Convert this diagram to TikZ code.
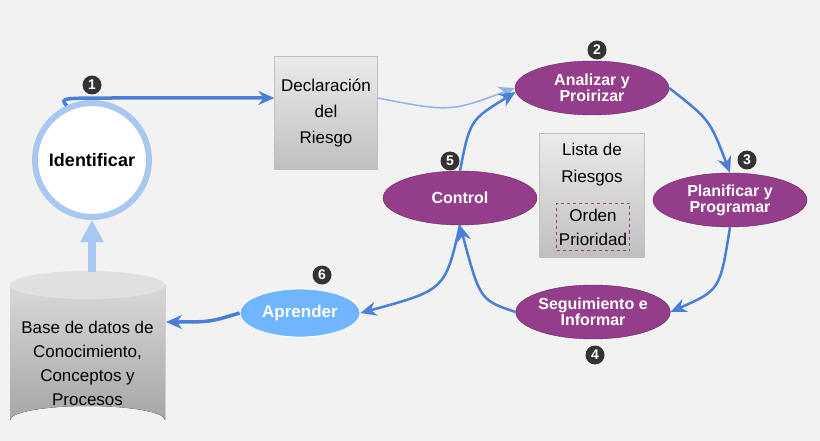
\documentclass[tikz,border=0pt]{standalone}
\usepackage{fontspec}
\setmainfont{Liberation Sans}
\usetikzlibrary{shapes.geometric,arrows.meta,positioning}
\definecolor{purp}{HTML}{943D8A}
\definecolor{flow}{HTML}{4A7FD8}
\definecolor{pale}{HTML}{A8C8F0}
\definecolor{sky}{HTML}{6FB5FF}
\tikzset{
  stage/.style={ellipse, fill=purp, draw=purp!70!black, minimum width=154pt, minimum height=54pt,
    text=white, align=center, font=\bfseries\fontsize{16}{16}\selectfont, inner sep=0pt},
  num/.style={circle, fill=black!80, text=white, inner sep=0pt, minimum size=19pt,
    font=\bfseries\fontsize{14}{14}\selectfont},
  card/.style={rectangle, draw=black!25, top color=black!8, bottom color=black!25, align=center,
    font=\fontsize{17}{26}\selectfont},
  flowarrow/.style={draw=flow, line width=2.5pt, -{Stealth[length=16pt,width=14pt]}},
  thin flow/.style={draw=flow!60, line width=1.5pt, -{Stealth[length=16pt,width=14pt]}}
}
\begin{document}
\begin{tikzpicture}[x=1pt,y=-1pt]
    \fill[black!5] (0,0) rectangle (820,441);
    \useasboundingbox (0,0) rectangle (820,441);

    % Start: Identificar and the database
    \node[circle, draw=pale, line width=6pt, fill=white, minimum size=114pt,
      font=\bfseries\fontsize{18}{18}\selectfont] (ident) at (92,160) {Identificar};
    \fill[top color=black!15, bottom color=black!35] (10,285) -- (10,420) arc[start angle=180,end angle=360,x radius=77.5,y radius=14] -- (165,285) -- cycle;
    \fill[black!12] (87.5,285) ellipse[x radius=77.5,y radius=14];
    \node[align=center, font=\fontsize{17}{24}\selectfont] (base) at (87.5,363)
      {Base de datos de\\Conocimiento,\\Conceptos y\\Procesos};
    \coordinate (basetop) at (92,272);
    \coordinate (baseright) at (166,322);

    % Boxes
    \node[card, minimum width=103pt, minimum height=113pt] (decl) at (326,113) {Declaración\\del\\Riesgo};
    \node[card, minimum width=105pt, minimum height=124pt, anchor=north] (lista) at (592,133) {};
    \node[align=center, font=\fontsize{17}{27}\selectfont, anchor=north] at (592,140) {Lista de\\Riesgos};
    \node[draw=purp, dashed, thick, minimum width=73pt, minimum height=47pt, align=center,
      font=\fontsize{17}{24}\selectfont, inner sep=0pt] (orden) at (593,227) {Orden\\Prioridad};

    % Cycle stages
    \node[stage] (anal) at (592,88) {Analizar y\\Proirizar};
    \node[stage] (plan) at (730,200) {Planificar y\\Programar};
    \node[stage] (segu) at (593,312) {Seguimiento e\\Informar};
    \node[stage] (ctrl) at (460,198) {Control};
    \node[ellipse, fill=sky, draw=white, thick, minimum width=120pt, minimum height=48pt,
      text=white, font=\bfseries\fontsize{17}{17}\selectfont] (apre) at (300,313) {Aprender};

    % Numbers
    \foreach \n/\x/\y in {1/92/85, 2/597/50, 3/747/160, 4/595/355, 5/450/161, 6/322/275}
        \node[num] (n\n) at (\x,\y) {\n};

    % Connectors
    \draw[flowarrow, line width=3.5pt] (ident.115) .. controls (60,98) .. (120,98) -- (decl.west |- 0,98);
    \draw[thin flow] (decl.east |- 0,98) .. controls (450,112) .. (anal.west);
    \draw[flowarrow] (ctrl.north) .. controls (470,120) .. (anal.183);
    \draw[flowarrow] (anal.east) .. controls (710,120) .. (plan.north);
    \draw[flowarrow] (plan.south) .. controls (720,290) .. (segu.east);
    \draw[flowarrow] (segu.west) .. controls (480,300) .. (ctrl.south);
    \draw[flowarrow] (ctrl.south) .. controls (445,290) .. (apre.east);
    \draw[flowarrow, line width=3.5pt] (apre.west) .. controls (210,322) .. (baseright);
    \draw[draw=pale, line width=8pt, -{Triangle[length=22pt,width=22pt]}] (basetop) -- (ident.south);
\end{tikzpicture}
\end{document}
